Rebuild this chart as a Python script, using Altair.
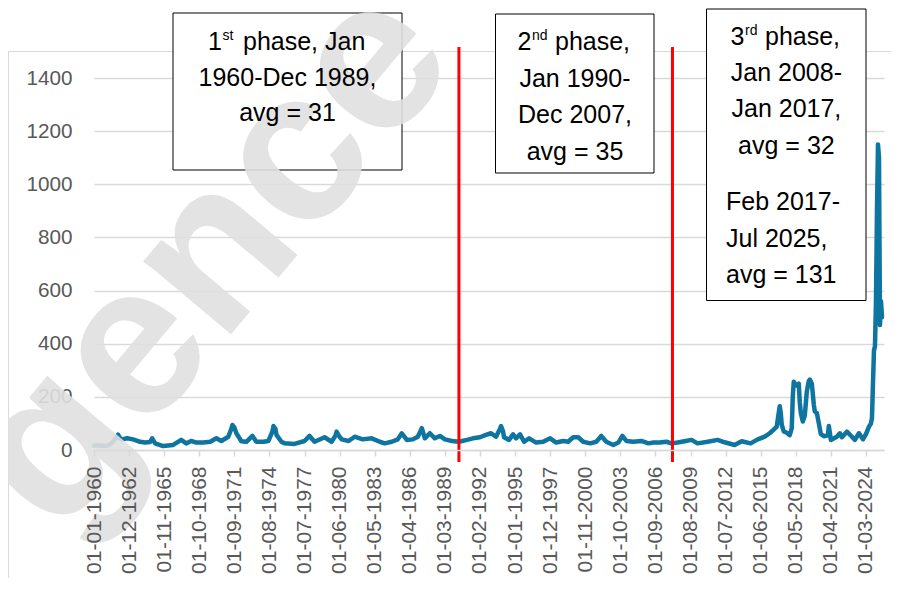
import altair as alt
import pandas as pd

# ---------------- data ----------------
dates = [
    "1960-01", "1960-07", "1961-01", "1961-05", "1961-08", "1961-11", "1962-01", "1962-03",
    "1962-05", "1962-10", "1963-04", "1963-11", "1964-04", "1964-09", "1964-11", "1965-02",
    "1965-10", "1966-08", "1967-04", "1967-09", "1968-02", "1968-07", "1969-02", "1969-09",
    "1970-03", "1970-08", "1971-03", "1971-06", "1971-07", "1971-09", "1971-11", "1972-04",
    "1972-09", "1973-03", "1973-07", "1974-02", "1974-07", "1974-11", "1974-12", "1975-02",
    "1975-03", "1975-08", "1975-11", "1976-09", "1977-07", "1977-12", "1978-05", "1979-03",
    "1979-10", "1980-02", "1980-03", "1980-05", "1980-08", "1981-03", "1981-09", "1982-05",
    "1983-02", "1983-10", "1984-03", "1984-10", "1985-04", "1985-08", "1986-01", "1986-07",
    "1986-12", "1987-04", "1987-07", "1987-12", "1988-05", "1988-10", "1989-03", "1989-10",
    "1990-05", "1991-01", "1991-07", "1992-02", "1992-08", "1993-01", "1993-06", "1993-10",
    "1993-11", "1994-01", "1994-02", "1994-07", "1994-11", "1995-02", "1995-06", "1995-10",
    "1996-03", "1996-10", "1997-05", "1997-12", "1998-06", "1999-01", "1999-06", "1999-11",
    "2000-04", "2000-09", "2001-04", "2001-10", "2002-03", "2002-08", "2003-03", "2003-08",
    "2003-12", "2004-04", "2004-11", "2005-07", "2006-02", "2006-07", "2007-01", "2007-08",
    "2008-01", "2008-07", "2009-02", "2009-09", "2010-03", "2011-01", "2011-11", "2012-06",
    "2013-04", "2013-11", "2014-08", "2015-03", "2015-10", "2016-03", "2016-07", "2016-10",
    "2016-12", "2017-01", "2017-02", "2017-03", "2017-05", "2017-08", "2017-11", "2018-01",
    "2018-02", "2018-03", "2018-05", "2018-07", "2018-08", "2018-09", "2018-10", "2018-12",
    "2019-02", "2019-04", "2019-06", "2019-07", "2019-09", "2019-11", "2019-12", "2020-02",
    "2020-04", "2020-06", "2020-09", "2021-01", "2021-02", "2021-04", "2021-10", "2022-01",
    "2022-03", "2022-08", "2023-01", "2023-04", "2023-08", "2023-12", "2024-03", "2024-06",
    "2024-08", "2024-09", "2024-10", "2024-11", "2024-12", "2025-01", "2025-02", "2025-03",
    "2025-04", "2025-05", "2025-06", "2025-07",
]
values = [
    17, 17, 15, 21, 31, 45, 58, 45,
    40, 44, 40, 31, 28, 30, 44, 25,
    15, 19, 38, 25, 34, 28, 28, 31,
    44, 34, 50, 80, 94, 85, 63, 33,
    31, 53, 31, 31, 34, 70, 90, 80,
    57, 31, 25, 23, 34, 53, 31, 48,
    31, 55, 69, 55, 40, 34, 50, 40,
    44, 31, 25, 31, 40, 63, 38, 40,
    50, 82, 44, 63, 44, 53, 40, 34,
    31, 38, 44, 48, 57, 63, 50, 80,
    90, 70, 48, 38, 59, 44, 59, 31,
    44, 28, 31, 44, 28, 34, 31, 48,
    48, 31, 25, 31, 53, 31, 19, 28,
    53, 34, 31, 34, 25, 28, 28, 31,
    25, 28, 33, 38, 25, 31, 38, 29,
    19, 33, 25, 40, 50, 63, 77, 88,
    140, 165, 140, 95, 70, 65, 56, 82,
    200, 257, 245, 240, 250, 180, 140, 107,
    130, 220, 260, 265, 250, 170, 145, 140,
    100, 60, 52, 55, 90, 38, 50, 63,
    48, 69, 50, 38, 63, 40, 60, 88,
    100, 120, 250, 375, 390, 560, 900, 1150,
    1100, 470, 560, 500,
]
tick_labels = [
    "01-01-1960", "01-12-1962", "01-11-1965", "01-10-1968", "01-09-1971", "01-08-1974",
    "01-07-1977", "01-06-1980", "01-05-1983", "01-04-1986", "01-03-1989", "01-02-1992",
    "01-01-1995", "01-12-1997", "01-11-2000", "01-10-2003", "01-09-2006", "01-08-2009",
    "01-07-2012", "01-06-2015", "01-05-2018", "01-04-2021", "01-03-2024",
]
y_ticks = [0, 200, 400, 600, 800, 1000, 1200, 1400]
phase_breaks = ["1990-05", "2008-02"]


def month_index(s):
    yr, mo = s.split("-")
    return (int(yr) - 1960) * 12 + int(mo) - 1


df = pd.DataFrame({"m": [month_index(d) for d in dates], "v": values})
breaks_df = pd.DataFrame({"m": [month_index(d) for d in phase_breaks]})
one = pd.DataFrame({"a": [1]})

AX_FONT = "Liberation Sans"
TXT_FONT = "Liberation Sans"
GRID = "#d9d9d9"
LABEL = "#595959"

label_expr = "[" + ",".join("'" + l + "'" for l in tick_labels) + "][round(datum.value/35)]"

x_enc = alt.X(
    "m:Q",
    scale=alt.Scale(domain=[0, 788], nice=False, zero=False),
    axis=alt.Axis(
        values=[i * 35 for i in range(len(tick_labels))],
        labelExpr=label_expr,
        labelAngle=270,
        labelAlign="right",
        labelBaseline="middle",
        labelFont=AX_FONT,
        labelFontSize=21,
        labelColor=LABEL,
        labelPadding=10,
        labelOverlap=False,
        tickSize=6,
        tickColor=GRID,
        tickWidth=1.5,
        domainColor=GRID,
        domainWidth=1.5,
        grid=False,
        title=None,
        zindex=1,
    ),
)
y_enc = alt.Y(
    "v:Q",
    scale=alt.Scale(domain=[0, 1400], nice=False),
    axis=alt.Axis(
        values=y_ticks,
        format="d",
        grid=True,
        gridColor=GRID,
        gridWidth=1.3,
        domain=False,
        ticks=False,
        labelFont=AX_FONT,
        labelFontSize=20.7,
        labelColor=LABEL,
        labelPadding=22,
        title=None,
    ),
)

border = alt.Chart(one).mark_rect(fillOpacity=0, stroke=GRID, strokeWidth=1).encode(
    x=alt.value(-85.5), x2=alt.value(900), y=alt.value(-26.5), y2=alt.value(600)
)

watermark = alt.Chart(one).mark_text(
    text="gence", angle=310, fontSize=216, font="Liberation Sans", fontWeight="bold",
    color="#e0e0e0", opacity=0.9, align="center", baseline="middle",
).encode(x=alt.value(116), y=alt.value(180))

line = alt.Chart(df).mark_line(
    color="#0e75a0", strokeWidth=4.5, strokeJoin="round", strokeCap="round"
).encode(x=x_enc, y=y_enc)

rules = alt.Chart(breaks_df).mark_rule(color="#ff0000", strokeWidth=3).encode(
    x=x_enc, y=alt.value(-31), y2=alt.value(384)
)


def box(x1, x2, y1, y2):
    return alt.Chart(one).mark_rect(fill="white", stroke="black", strokeWidth=1).encode(
        x=alt.value(x1), x2=alt.value(x2), y=alt.value(y1), y2=alt.value(y2)
    )


def txt(s, x, y, align="center", size=25):
    return alt.Chart(one).mark_text(
        text=s, align=align, baseline="alphabetic", font=TXT_FONT, fontSize=size, color="black"
    ).encode(x=alt.value(x), y=alt.value(y))


boxes = [
    box(79, 308, -65, 92),
    box(401.5, 560, -64, 95),
    box(612.5, 772, -69, 222.5),
]

texts = [
    # box 1
    txt("1", 128, -28, "right"),
    txt("st", 128.5, -38, "left", 14),
    txt("phase, Jan", 149, -28, "left"),
    txt("1960-Dec 1989,", 193.5, 8),
    txt("avg = 31", 193.5, 43),
    # box 2
    txt("2", 437.5, -28, "right"),
    txt("nd", 438, -38, "left", 14),
    txt("phase,", 461, -28, "left"),
    txt("Jan 1990-", 481, 8.5),
    txt("Dec 2007,", 481, 45),
    txt("avg = 35", 481, 81.5),
    # box 3
    txt("3", 650.5, -33, "right"),
    txt("rd", 651, -43, "left", 14),
    txt("phase,", 671, -33, "left"),
    txt("Jan 2008-", 692.4, 3),
    txt("Jan 2017,", 692.4, 39),
    txt("avg = 32", 692.4, 76),
    txt("Feb 2017-", 632, 132, "left"),
    txt("Jul 2025,", 632, 169, "left"),
    txt("avg = 131", 632, 205, "left"),
]

chart = alt.layer(border, line, rules, *boxes, watermark, *texts).properties(
    width=790,
    height=372,
    padding={"left": 86, "top": 70, "right": 7, "bottom": 128},
    autosize=alt.AutoSizeParams(type="none"),
).configure_view(strokeWidth=0)

chart.save("out.html", embed_options={"renderer": "svg", "actions": False})
